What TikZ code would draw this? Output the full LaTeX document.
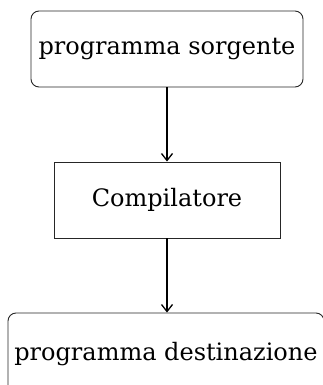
\documentclass[tikz,border=0pt]{standalone}
\usepackage{fontspec}
\setmainfont{DejaVu Serif}
\usetikzlibrary{arrows.meta}
\begin{document}
\begin{tikzpicture}[x=1pt,y=1pt,
  box/.style={draw=black!85, line width=0.9pt, minimum height=76pt, inner sep=0pt,
    font=\fontsize{24}{28}\selectfont},
  roundbox/.style={box, rounded corners=8pt},
  flow/.style={line width=1.3pt, -{Straight Barb[length=7pt,width=11pt,line width=1.3pt]}}]
  \useasboundingbox (0,0) rectangle (322,-385);
  \node[roundbox, minimum width=272pt] (src) at (167,-49) {programma sorgente};
  \node[box, minimum width=226pt] (comp) at (167,-200) {Compilatore};
  \node[roundbox, minimum width=316pt, minimum height=84pt] (dst) at (166,-355)
    {\raisebox{8pt}{programma destinazione}};
  \draw[flow] (src.south) -- (comp.north);
  \draw[flow] (comp.south) -- (comp.south |- dst.north);
\end{tikzpicture}
\end{document}
